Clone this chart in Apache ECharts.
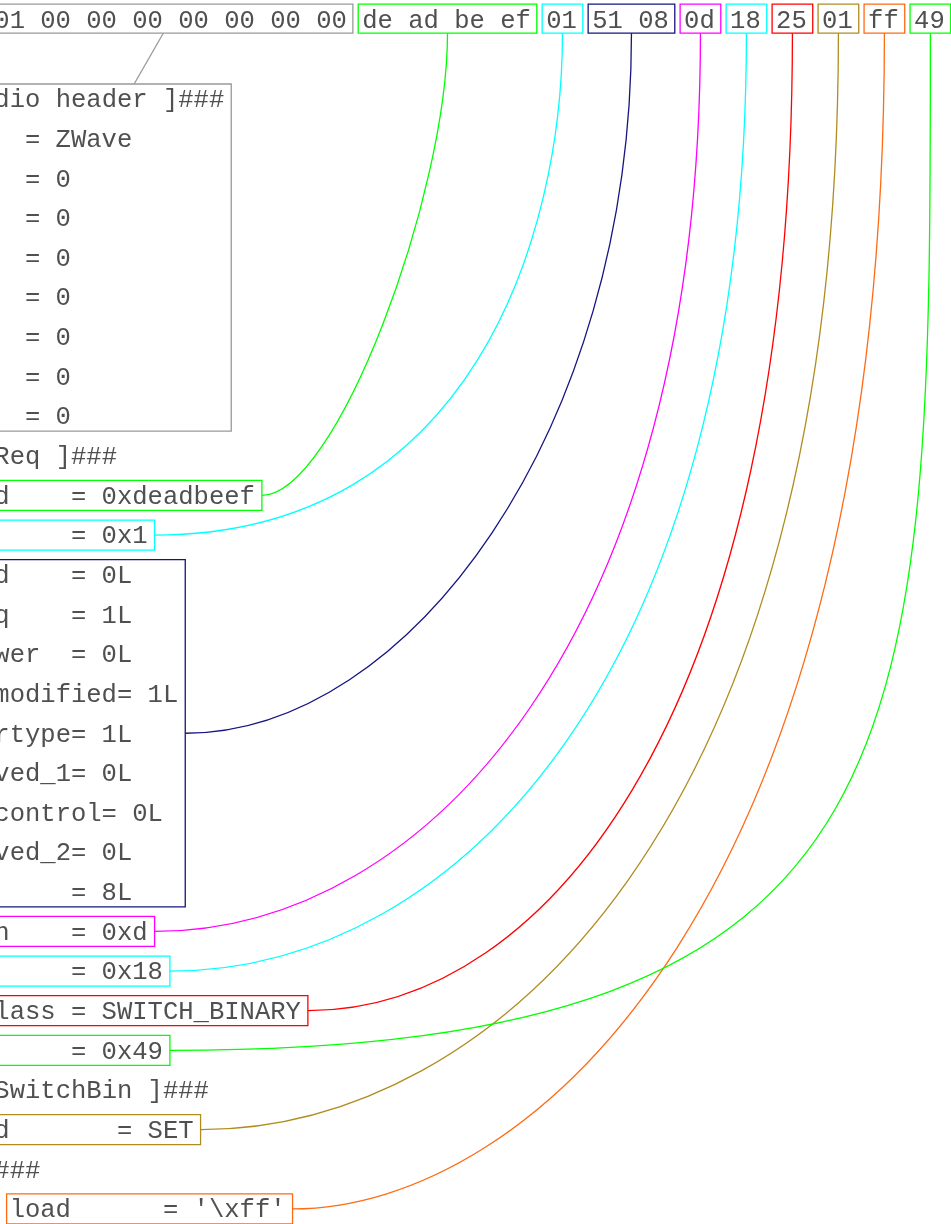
<!DOCTYPE html>
<html>
<head>
<meta charset="utf-8">
<style>
  html, body { margin: 0; padding: 0; background: #fff; }
  #main { width: 951px; height: 1224px; }
</style>
<script src="https://cdn.jsdelivr.net/npm/echarts@6/dist/echarts.min.js"></script>
</head>
<body>
<div id="main"></div>
<script>
// raw bytes of the frame, in order
const hexBytes = ['01', '00', '00', '00', '00', '00', '00', '00',
  'de', 'ad', 'be', 'ef', '01', '51', '08', '0d', '18', '25', '01', 'ff', '49'];

// dissection lines (leading spaces = indent, one char per column)
const dumpLines = [
  '###[ Gnuradio header ]###',
  '            = ZWave',
  '            = 0',
  '            = 0',
  '            = 0',
  '            = 0',
  '            = 0',
  '            = 0',
  '            = 0',
  '###[ ZWaveReq ]###',
  '     homeId    = 0xdeadbeef',
  '     src       = 0x1',
  '     routed    = 0L',
  '     ackreq    = 1L',
  '     lowpower  = 0L',
  '     speedmodified= 1L',
  '     headertype= 1L',
  '     reserved_1= 0L',
  '     beam_control= 0L',
  '     reserved_2= 0L',
  '     seqn      = 8L',
  '     length    = 0xd',
  '     dst       = 0x18',
  '     cmd_class = SWITCH_BINARY',
  '     crc       = 0x49',
  '###[ ZWaveSwitchBin ]###',
  '        cmd       = SET',
  '###[ Raw ]###',
  "           load      = '\\xff'"
];

// which bytes belong to which lines
const linkFirstByte = [0, 8, 12, 13, 15, 16, 17, 18, 19, 20];
const linkLastByte  = [7, 11, 12, 14, 15, 16, 17, 18, 19, 20];
const linkFirstLine = [0, 10, 11, 12, 21, 22, 23, 26, 28, 24];
const linkLastLine  = [8, 10, 11, 20, 21, 22, 23, 26, 28, 24];

// styles
const linkColor = ['#999999', '#00ff00', '#00ffff', '#15157f', '#ff00ff',
  '#00ffff', '#ff0000', '#b08c20', '#ff6a14', '#00ff00'];
// how far the control points reach (share of dx, share of dy); null = straight
const linkBend = [null, [0.4, 0.35], [0.78, 0.4], [0.5, 0.57], [0.5, 0.67],
  [0.5, 0.68], [0.5, 0.69], [0.45, 0.73], [0.4, 0.74], [1.0, 0.7]];

const HEX_ROW = -2;      // row of the hex dump
const HEX_COL = 10;      // column of first byte
const FONT = '25.55px "Liberation Mono"';
const TEXT_COLOR = '#505050';
const TEXT_DY = 1.5;     // nudge text down onto the box centres

const indentOf = s => s.match(/^ */)[0].length;

function hexBox(api, i) {
  const c0 = HEX_COL + 3 * linkFirstByte[i];
  const c1 = HEX_COL + 3 * linkLastByte[i] + 2;
  const a = api.coord([c0, HEX_ROW]);
  const b = api.coord([c1, HEX_ROW]);
  return { x0: a[0] - 4, x1: b[0] + 6, y0: a[1] - 15.5, y1: a[1] + 13.5 };
}

function lineBox(api, i) {
  let cMin = Infinity, cMax = 0;
  for (let r = linkFirstLine[i]; r <= linkLastLine[i]; r++) {
    cMin = Math.min(cMin, indentOf(dumpLines[r]));
    cMax = Math.max(cMax, dumpLines[r].length);
  }
  const a = api.coord([cMin, linkFirstLine[i]]);
  const b = api.coord([cMax, linkLastLine[i]]);
  return { x0: a[0] - 3, x1: b[0] + 7, y0: a[1] - 15, y1: b[1] + 15 };
}

function rectOf(bx, color) {
  return {
    type: 'rect',
    shape: { x: bx.x0, y: bx.y0, width: bx.x1 - bx.x0, height: bx.y1 - bx.y0 },
    style: { fill: null, stroke: color, lineWidth: 1.3 }
  };
}

const chart = echarts.init(document.getElementById('main'), null, { renderer: 'canvas' });

chart.setOption({
  animation: false,
  backgroundColor: '#fff',
  grid: { left: 0, right: 0, top: 0, bottom: 0 },
  xAxis: { type: 'value', min: 10.372, max: 72.41, show: false },
  yAxis: { type: 'value', min: -2.4975, max: 28.381, inverse: true, show: false },
  series: [
    {
      // boxes around byte groups and around dissected lines
      type: 'custom',
      silent: true,
      data: linkColor.map((c, i) => [i, 0]),
      renderItem: function (params, api) {
        const i = params.dataIndex;
        return {
          type: 'group',
          children: [rectOf(hexBox(api, i), linkColor[i]), rectOf(lineBox(api, i), linkColor[i])]
        };
      }
    },
    {
      // connectors
      type: 'custom',
      silent: true,
      data: linkColor.map((c, i) => [i, 0]),
      renderItem: function (params, api) {
        const i = params.dataIndex;
        const h = hexBox(api, i);
        const l = lineBox(api, i);
        const hx = (h.x0 + h.x1) / 2, hy = (h.y0 + h.y1) / 2;
        const lx = (l.x0 + l.x1) / 2, ly = (l.y0 + l.y1) / 2;
        if (!linkBend[i]) {
          const k = (lx - hx) / (ly - hy);
          return {
            type: 'line',
            shape: { x1: hx + k * (h.y1 - hy), y1: h.y1, x2: hx + k * (l.y0 - hy), y2: l.y0 },
            style: { stroke: linkColor[i], lineWidth: 1.3 }
          };
        }
        const x1 = l.x1, y1 = ly, x2 = hx, y2 = h.y1;
        const a = linkBend[i][0], b = linkBend[i][1];
        return {
          type: 'bezierCurve',
          shape: {
            x1: x1, y1: y1, x2: x2, y2: y2,
            cpx1: x1 + a * (x2 - x1), cpy1: y1,
            cpx2: x2, cpy2: y2 + b * (y1 - y2)
          },
          style: { fill: null, stroke: linkColor[i], lineWidth: 1.3 }
        };
      }
    },
    {
      // hex dump text, one string per byte group
      type: 'custom',
      silent: true,
      data: linkColor.map((c, i) => [HEX_COL + 3 * linkFirstByte[i], HEX_ROW]),
      renderItem: function (params, api) {
        const i = params.dataIndex;
        const p = api.coord([api.value(0), api.value(1)]);
        return {
          type: 'text',
          style: {
            text: hexBytes.slice(linkFirstByte[i], linkLastByte[i] + 1).join(' '),
            x: p[0], y: p[1] + TEXT_DY, font: FONT, fill: TEXT_COLOR, verticalAlign: 'middle'
          }
        };
      }
    },
    {
      // dissection text
      type: 'custom',
      silent: true,
      data: dumpLines.map((s, r) => [indentOf(s), r]),
      renderItem: function (params, api) {
        const s = dumpLines[params.dataIndex];
        const p = api.coord([api.value(0), api.value(1)]);
        return {
          type: 'text',
          style: {
            text: s.slice(indentOf(s)),
            x: p[0], y: p[1] + TEXT_DY, font: FONT, fill: TEXT_COLOR, verticalAlign: 'middle'
          }
        };
      }
    }
  ]
});
</script>
</body>
</html>
